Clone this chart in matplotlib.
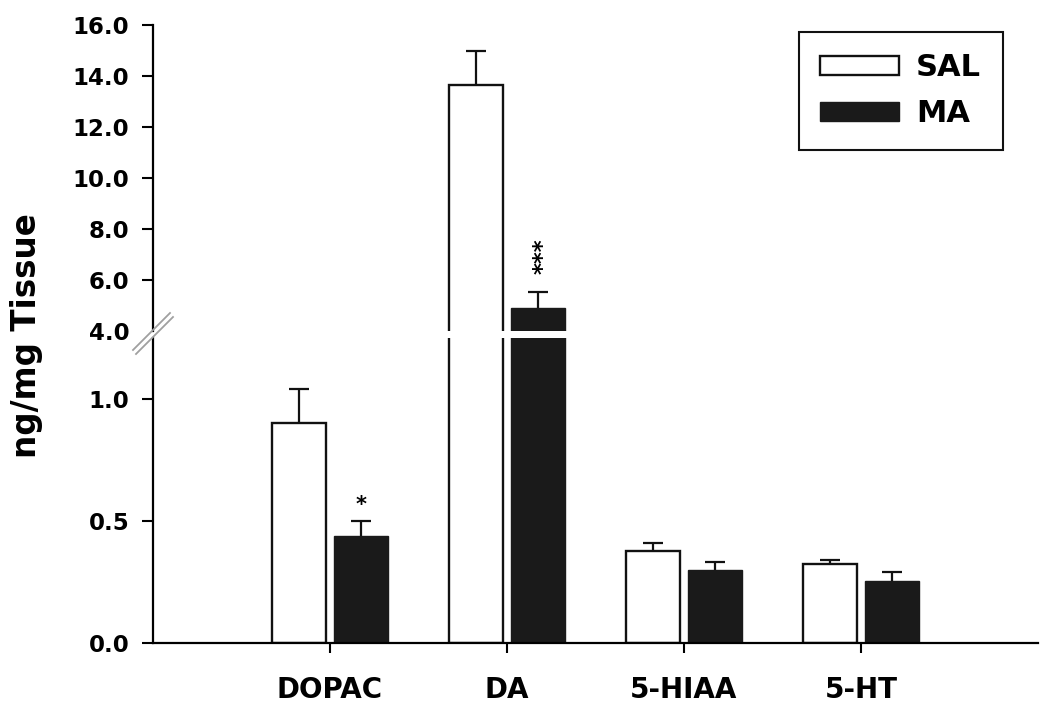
import matplotlib
matplotlib.use('Agg')
import matplotlib.pyplot as plt
from matplotlib.lines import Line2D
import numpy as np

plt.rcParams['font.family'] = ['DejaVu Sans']
plt.rcParams['font.weight'] = 'bold'

# data (ng/mg tissue)
categories = ['DOPAC', 'DA', '5-HIAA', '5-HT']
sal_mean = [0.90, 13.65, 0.377, 0.324]
sal_sem = [0.14, 1.33, 0.034, 0.016]
ma_mean = [0.44, 4.90, 0.299, 0.255]
ma_sem = [0.06, 0.63, 0.033, 0.035]
stars = ['*', '***', '', '']

W, H = 1050, 719
fig = plt.figure(figsize=(W / 100, H / 100), dpi=100)

# broken y axis: two stacked axes
ax_top = fig.add_axes([153 / W, (H - 331) / H, 885 / W, 306 / H])
ax_bot = fig.add_axes([153 / W, (H - 643) / H, 885 / W, 305 / H])

x = np.arange(len(categories))
bw = 0.30
off = 0.175

def draw_bars(ax):
    zeros = np.zeros(len(x))
    b1 = ax.bar(x - off, sal_mean, bw, color='white', edgecolor='#111111',
                linewidth=1.7, label='SAL', zorder=2)
    b2 = ax.bar(x + off, ma_mean, bw, color='#1a1a1a', edgecolor='#1a1a1a',
                linewidth=1.0, label='MA', zorder=2)
    for xs, m, s in [(x - off, sal_mean, sal_sem), (x + off, ma_mean, ma_sem)]:
        _, caps, _ = ax.errorbar(xs, m, yerr=[zeros, s], fmt='none',
                                 ecolor='#111111', elinewidth=1.6, capsize=7.5,
                                 capthick=1.6, zorder=1)
        caps[0].set_visible(False)  # only the upper cap
    return b1, b2

b1, b2 = draw_bars(ax_top)
draw_bars(ax_bot)

for ax in (ax_top, ax_bot):
    ax.set_xlim(-1, 4)
    ax.spines['top'].set_visible(False)
    ax.spines['right'].set_visible(False)
    ax.spines['left'].set_linewidth(1.6)
    ax.spines['bottom'].set_linewidth(1.6)
    ax.tick_params(axis='y', direction='out', length=8, width=1.5, pad=9, labelsize=16.5)
    ax.patch.set_visible(False)

# upper part
ax_top.set_ylim(4, 16)
ax_top.set_yticks(np.arange(4, 17, 2))
ax_top.set_yticklabels([f'{v:.1f}' for v in np.arange(4, 17, 2)])
ax_top.yaxis.get_major_ticks()[0].tick1line.set_visible(False)
ax_top.spines['bottom'].set_visible(False)
ax_top.set_xticks([])

# lower part
ax_bot.set_ylim(0, 1.25)
ax_bot.set_yticks([0, 0.5, 1.0])
ax_bot.set_yticklabels(['0.0', '0.5', '1.0'])
ax_bot.set_xticks(x)
ax_bot.set_xticklabels(categories, fontsize=20)
ax_bot.tick_params(axis='x', direction='out', length=7, width=1.5, pad=17)

# significance marks
ax_bot.text(x[0] + off, 0.565, stars[0], ha='center', va='center', fontsize=15)
ax_top.text(x[1] + off + 0.03, 6.95, stars[1], ha='center', va='center',
            fontsize=16.5, rotation=90)

# axis break marks
for dx, dy in [(0, 0), (3, 4)]:
    fig.add_artist(Line2D([(133 + dx) / W, (170 + dx) / W],
                          [(H - 350 - dy) / H, (H - 313 - dy) / H],
                          color='#a0a0a0', lw=1.3))

fig.text(27 / W, (H - 336) / H, 'ng/mg Tissue', rotation=90, ha='center',
         va='center', fontsize=23.5)

leg = ax_top.legend([b1, b2], ['SAL', 'MA'], loc='upper right',
                    bbox_to_anchor=(0.960, 0.977), borderaxespad=0,
                    fancybox=False, edgecolor='#111111', fontsize=22,
                    handlelength=2.6, handleheight=0.6, handletextpad=0.55,
                    labelspacing=0.55, borderpad=0.7, framealpha=1)
leg.get_frame().set_linewidth(1.5)

fig.savefig('out.png', dpi=100)
